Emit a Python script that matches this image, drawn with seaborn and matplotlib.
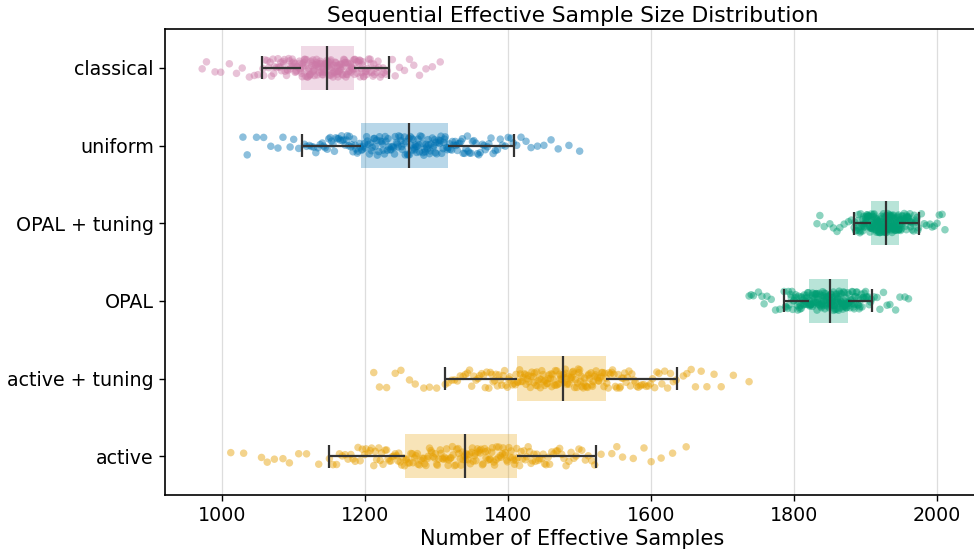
import numpy as np
import pandas as pd
import matplotlib
matplotlib.use("Agg")
import matplotlib.pyplot as plt
import seaborn as sns

categories = ["classical", "uniform", "OPAL + tuning", "OPAL", "active + tuning", "active"]
colors = ["#CC79A7", "#0072B2", "#009E73", "#009E73", "#E69F00", "#E69F00"]

classical = [972, 990, 1010, 1028, 1045,
             1058, 1063, 1067, 1071, 1073, 1078, 1081, 1083, 1086, 1088, 1091, 1093, 1095, 1098, 1099,
             1102, 1103, 1105, 1108, 1109,
             1111, 1112, 1114, 1116, 1117, 1119, 1121, 1122, 1123, 1125, 1127, 1128, 1129, 1131, 1132,
             1134, 1135, 1137, 1138, 1140, 1141, 1142, 1144, 1145, 1146,
             1148, 1149, 1150, 1152, 1153, 1155, 1156, 1157, 1159, 1161, 1162, 1163, 1164, 1166, 1167,
             1169, 1170, 1172, 1173, 1175, 1177, 1178, 1180, 1181, 1183,
             1185, 1186, 1188, 1190, 1192, 1193, 1195, 1197, 1198, 1201, 1203, 1206, 1208, 1211, 1213,
             1216, 1219, 1223, 1226, 1231,
             1242, 1255, 1268, 1285, 1305,
             978, 998, 1020, 1038, 1050,
             1057, 1060, 1065, 1069, 1072, 1076, 1079, 1082, 1085, 1087, 1090, 1092, 1094, 1096, 1098,
             1100, 1102, 1104, 1106, 1108, 1110, 1112, 1113, 1115, 1116, 1118, 1120, 1121, 1123, 1124,
             1126, 1127, 1129, 1130, 1132, 1133, 1134, 1136, 1137, 1139, 1140, 1141, 1143, 1144, 1146,
             1147, 1148, 1150, 1151, 1152, 1154, 1155, 1157, 1158, 1159, 1161, 1162, 1164, 1165, 1166,
             1168, 1169, 1171, 1172, 1174, 1175, 1177, 1179, 1180, 1182, 1184, 1185, 1187, 1189, 1191,
             1193, 1195, 1196, 1198, 1200, 1202, 1205, 1207, 1209, 1212, 1215, 1218, 1221, 1225, 1229,
             1238, 1248, 1262, 1276, 1294]
uniform = [1029, 1048, 1068, 1085, 1100,
           1115, 1122, 1128, 1134, 1140, 1144, 1149, 1153, 1157, 1161, 1165, 1168, 1172, 1175, 1178,
           1181, 1184, 1187, 1190, 1193,
           1196, 1199, 1202, 1204, 1207, 1210, 1213, 1216, 1219, 1221, 1224, 1227, 1229, 1232, 1235,
           1237, 1240, 1242, 1245, 1247, 1250, 1252, 1255, 1257, 1260,
           1262, 1264, 1266, 1268, 1270, 1272, 1274, 1276, 1279, 1281, 1283, 1285, 1287, 1289, 1291,
           1294, 1296, 1298, 1300, 1303, 1305, 1307, 1310, 1312, 1315,
           1318, 1321, 1324, 1327, 1330, 1334, 1337, 1341, 1344, 1348, 1352, 1357, 1361, 1366, 1371,
           1376, 1382, 1389, 1396, 1404,
           1418, 1432, 1450, 1470, 1500,
           1035, 1058, 1078, 1095, 1107,
           1118, 1125, 1131, 1137, 1142, 1147, 1151, 1155, 1159, 1163, 1167, 1170, 1174, 1177, 1180,
           1183, 1186, 1189, 1192, 1195, 1197, 1200, 1203, 1206, 1209, 1212, 1214, 1217, 1220, 1223,
           1225, 1228, 1231, 1233, 1236, 1239, 1241, 1244, 1246, 1249, 1251, 1254, 1256, 1259, 1261,
           1263, 1265, 1267, 1269, 1271, 1273, 1275, 1277, 1280, 1282, 1284, 1286, 1288, 1290, 1292,
           1295, 1297, 1299, 1302, 1304, 1306, 1309, 1311, 1314, 1316, 1319, 1322, 1326, 1329, 1332,
           1336, 1339, 1343, 1346, 1350, 1355, 1359, 1364, 1368, 1373, 1379, 1385, 1392, 1400, 1407,
           1412, 1425, 1441, 1460, 1485]
opal_tuning = [1832, 1842, 1855, 1864, 1876,
               1885, 1887, 1889, 1890, 1892, 1893, 1895, 1896, 1897, 1898, 1899, 1900, 1901, 1902, 1903,
               1904, 1905, 1906, 1907, 1908,
               1908, 1909, 1910, 1911, 1912, 1913, 1914, 1915, 1915, 1916, 1917, 1918, 1919, 1919, 1920,
               1921, 1922, 1922, 1923, 1924, 1925, 1925, 1926, 1927, 1928,
               1928, 1929, 1930, 1930, 1931, 1932, 1933, 1933, 1934, 1935, 1935, 1936, 1937, 1938, 1938,
               1939, 1940, 1941, 1942, 1942, 1943, 1944, 1945, 1946, 1947,
               1947, 1948, 1949, 1950, 1951, 1952, 1953, 1954, 1955, 1957, 1958, 1959, 1960, 1962, 1963,
               1965, 1967, 1969, 1971, 1973,
               1982, 1990, 1996, 2003, 2011,
               1836, 1850, 1860, 1870, 1880,
               1884, 1886, 1888, 1890, 1891, 1893, 1894, 1896, 1897, 1898, 1899, 1900, 1901, 1902, 1903,
               1904, 1905, 1906, 1907, 1908, 1909, 1910, 1910, 1911, 1912, 1913, 1914, 1914, 1915, 1916,
               1917, 1918, 1918, 1919, 1920, 1921, 1921, 1922, 1923, 1924, 1924, 1925, 1926, 1926, 1927,
               1928, 1929, 1929, 1930, 1931, 1931, 1932, 1933, 1934, 1934, 1935, 1936, 1937, 1937, 1938,
               1939, 1940, 1940, 1941, 1942, 1943, 1944, 1945, 1946, 1946, 1947, 1948, 1949, 1950, 1951,
               1952, 1953, 1954, 1956, 1957, 1958, 1960, 1961, 1963, 1964, 1966, 1968, 1970, 1972, 1974,
               1978, 1985, 1993, 2000, 2007]
opal = [1737, 1743, 1755, 1762, 1774,
        1788, 1791, 1793, 1796, 1798, 1800, 1802, 1804, 1806, 1807, 1809, 1810, 1812, 1813, 1815,
        1816, 1817, 1818, 1820, 1821,
        1822, 1823, 1825, 1826, 1827, 1828, 1830, 1831, 1832, 1833, 1834, 1835, 1837, 1838, 1839,
        1840, 1841, 1842, 1843, 1844, 1845, 1846, 1848, 1849, 1850,
        1851, 1852, 1853, 1853, 1854, 1855, 1856, 1857, 1858, 1859, 1860, 1861, 1862, 1863, 1864,
        1865, 1866, 1867, 1868, 1869, 1870, 1871, 1872, 1873, 1874,
        1875, 1876, 1877, 1879, 1880, 1881, 1882, 1884, 1885, 1886, 1888, 1890, 1891, 1893, 1895,
        1897, 1899, 1901, 1904, 1907,
        1916, 1925, 1934, 1948, 1960,
        1740, 1750, 1758, 1768, 1780,
        1786, 1789, 1792, 1795, 1797, 1799, 1801, 1803, 1805, 1807, 1808, 1810, 1811, 1813, 1814,
        1815, 1817, 1818, 1819, 1820, 1822, 1823, 1824, 1825, 1826, 1828, 1829, 1830, 1831, 1832,
        1833, 1834, 1836, 1837, 1838, 1839, 1840, 1841, 1842, 1843, 1845, 1846, 1847, 1848, 1849,
        1850, 1851, 1852, 1852, 1853, 1854, 1855, 1856, 1857, 1858, 1859, 1860, 1861, 1862, 1863,
        1864, 1865, 1866, 1867, 1868, 1869, 1870, 1871, 1872, 1873, 1874, 1875, 1876, 1877, 1878,
        1880, 1881, 1883, 1884, 1886, 1887, 1889, 1890, 1892, 1894, 1896, 1898, 1900, 1902, 1905,
        1908, 1912, 1920, 1930, 1942, 1955]
active_tuning = [1212, 1230, 1250, 1270, 1290,
                 1316, 1325, 1333, 1340, 1346, 1352, 1358, 1363, 1368, 1373, 1377, 1381, 1385, 1389, 1393,
                 1397, 1401, 1404, 1408, 1411,
                 1414, 1417, 1420, 1423, 1425, 1428, 1431, 1433, 1436, 1439, 1441, 1444, 1446, 1449, 1451,
                 1454, 1456, 1459, 1461, 1463, 1466, 1468, 1471, 1473, 1475,
                 1478, 1480, 1482, 1484, 1487, 1489, 1491, 1493, 1496, 1498, 1500, 1502, 1505, 1507, 1510,
                 1512, 1514, 1517, 1519, 1522, 1525, 1527, 1530, 1532, 1535,
                 1538, 1541, 1545, 1548, 1552, 1556, 1559, 1563, 1567, 1571, 1576, 1580, 1585, 1590, 1596,
                 1602, 1608, 1615, 1623, 1631,
                 1650, 1662, 1678, 1698, 1737,
                 1220, 1242, 1262, 1282, 1300,
                 1312, 1321, 1329, 1337, 1343, 1349, 1355, 1360, 1366, 1370, 1375, 1379, 1383, 1387, 1391,
                 1395, 1399, 1402, 1406, 1410, 1413, 1416, 1418, 1421, 1424, 1427, 1429, 1432, 1435, 1437,
                 1440, 1442, 1445, 1447, 1450, 1452, 1455, 1457, 1460, 1462, 1465, 1467, 1469, 1472, 1474,
                 1477, 1479, 1481, 1483, 1485, 1488, 1490, 1492, 1494, 1497, 1499, 1501, 1503, 1506, 1508,
                 1511, 1513, 1516, 1518, 1521, 1523, 1526, 1528, 1531, 1534, 1537, 1540, 1543, 1546, 1550,
                 1554, 1557, 1561, 1565, 1569, 1573, 1578, 1582, 1587, 1593, 1599, 1605, 1611, 1619, 1627,
                 1635, 1645, 1656, 1670, 1688, 1715]
active = [1012, 1055, 1073, 1094, 1118,
          1155, 1164, 1172, 1180, 1186, 1193, 1199, 1204, 1209, 1214, 1219, 1223, 1228, 1232, 1236,
          1240, 1244, 1247, 1251, 1255,
          1258, 1262, 1266, 1269, 1273, 1276, 1280, 1283, 1287, 1290, 1293, 1297, 1300, 1303, 1306,
          1310, 1313, 1316, 1319, 1322, 1325, 1328, 1331, 1334, 1337,
          1340, 1343, 1346, 1349, 1351, 1354, 1357, 1360, 1362, 1365, 1368, 1371, 1374, 1377, 1380,
          1383, 1386, 1389, 1392, 1395, 1398, 1401, 1404, 1408, 1411,
          1414, 1418, 1422, 1426, 1430, 1434, 1438, 1442, 1447, 1451, 1456, 1461, 1467, 1472, 1478,
          1485, 1492, 1499, 1508, 1517,
          1545, 1560, 1590, 1614, 1649,
          1030, 1063, 1085, 1107, 1135,
          1150, 1160, 1168, 1176, 1183, 1190, 1196, 1201, 1207, 1212, 1216, 1221, 1225, 1230, 1234,
          1238, 1242, 1246, 1249, 1253, 1257, 1260, 1264, 1267, 1271, 1274, 1278, 1282, 1285, 1288,
          1292, 1295, 1298, 1301, 1305, 1308, 1311, 1314, 1317, 1320, 1323, 1327, 1330, 1333, 1336,
          1339, 1341, 1344, 1347, 1350, 1353, 1355, 1358, 1361, 1364, 1367, 1369, 1372, 1375, 1378,
          1381, 1384, 1387, 1390, 1393, 1396, 1399, 1403, 1406, 1409, 1412, 1416, 1420, 1424, 1428,
          1432, 1436, 1440, 1444, 1449, 1453, 1458, 1464, 1469, 1475, 1481, 1488, 1495, 1503, 1512,
          1521, 1530, 1552, 1575, 1600, 1630]

# summary statistics
whisker_lo = [1055, 1111, 1884, 1786, 1312, 1150]
box_q1 = [1110, 1194, 1908, 1821, 1413, 1256]
box_median = [1147, 1261, 1928, 1850, 1477, 1339]
box_q3 = [1184, 1316, 1947, 1875, 1537, 1413]
whisker_hi = [1233, 1408, 1974, 1909, 1636, 1523]

series = [classical, uniform, opal_tuning, opal, active_tuning, active]
df = pd.DataFrame({
    "method": np.concatenate([[c] * len(s) for c, s in zip(categories, series)]),
    "value": np.concatenate([np.asarray(s, dtype=float) for s in series]),
})
palette = dict(zip(categories, colors))

sns.set_theme(style="ticks")
plt.rcParams["font.family"] = ["DejaVu Sans"]
np.random.seed(3)

fig = plt.figure(figsize=(9.74, 5.59), dpi=100)
ax = fig.add_axes([165 / 974, 64 / 559, 815 / 974, 466 / 559])

sns.stripplot(data=df, x="value", y="method", hue="method", order=categories,
              hue_order=categories, palette=palette, orient="h", jitter=0.125,
              size=5.4, alpha=0.45, linewidth=0, legend=False, ax=ax, zorder=2)

pos = np.arange(len(categories))
q1 = np.array(box_q1)
q3 = np.array(box_q3)
ax.barh(pos, q3 - q1, left=q1, height=0.57, color=colors, alpha=0.28,
        linewidth=0, zorder=1)
lc = "#333333"
ax.vlines(box_median, pos - 0.285, pos + 0.285, color=lc, lw=1.6, zorder=4)
ax.hlines(pos, whisker_lo, box_q1, color=lc, lw=1.6, zorder=4)
ax.hlines(pos, box_q3, whisker_hi, color=lc, lw=1.6, zorder=4)
ax.vlines(whisker_lo, pos - 0.15, pos + 0.15, color=lc, lw=1.6, zorder=4)
ax.vlines(whisker_hi, pos - 0.15, pos + 0.15, color=lc, lw=1.6, zorder=4)

ax.set_xlim(920, 2060)
ax.set_ylim(5.5, -0.5)
ax.set_xticks([1000, 1200, 1400, 1600, 1800, 2000])
ax.grid(axis="x", color="#dddddd", lw=0.9)
ax.grid(axis="y", visible=False)
ax.set_axisbelow(True)
for sp in ax.spines.values():
    sp.set_color("black")
    sp.set_linewidth(1.2)
ax.tick_params(axis="both", labelsize=13.7, colors="black", length=4.5, width=1)
ax.set_xlabel("Number of Effective Samples", fontsize=15, color="black", labelpad=3)
ax.set_ylabel("")
ax.set_title("Sequential Effective Sample Size Distribution", fontsize=15.7,
             color="black", pad=5)

fig.savefig("out.png", dpi=100)
